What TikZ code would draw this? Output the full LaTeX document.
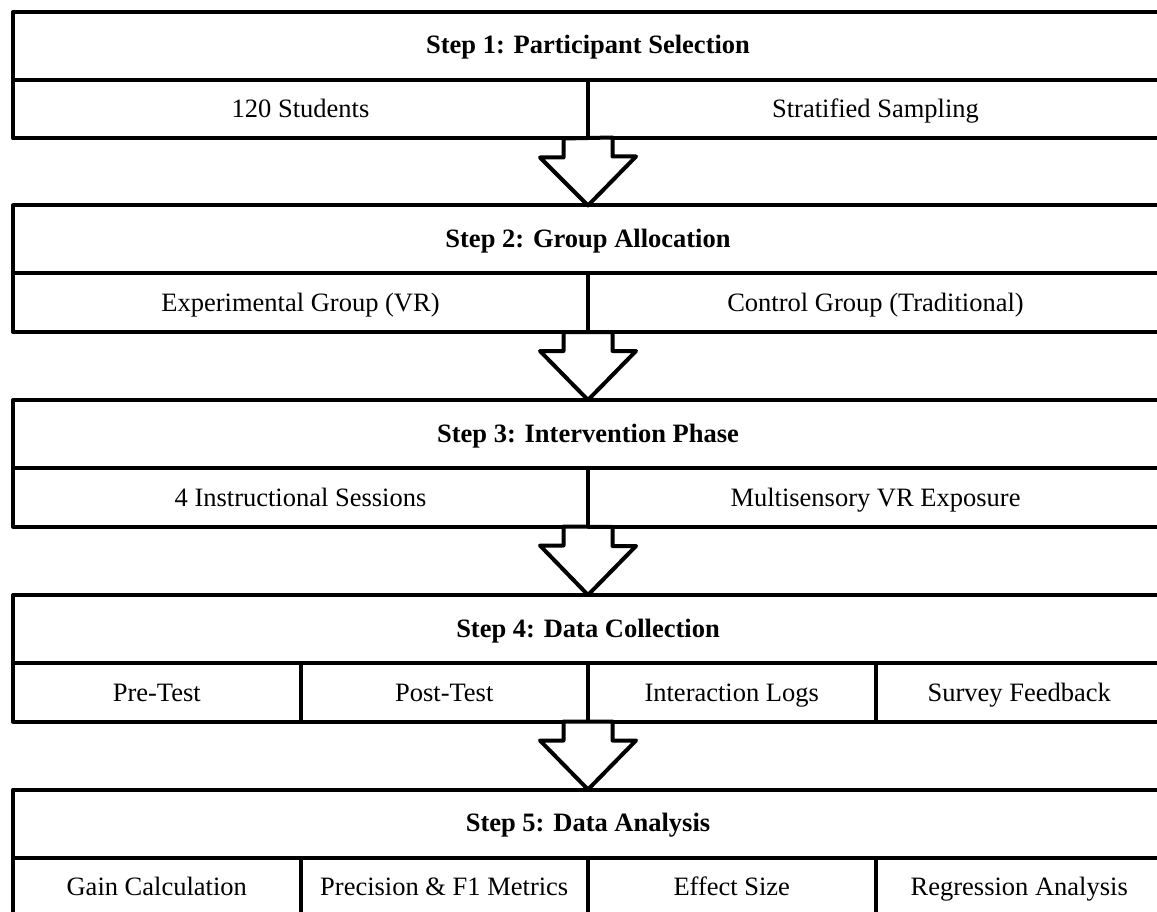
\documentclass[tikz,border=0pt]{standalone}
\usepackage{fontspec}
\setmainfont{Liberation Serif}
\begin{document}
\begin{tikzpicture}[x=1pt,y=-1pt,
  cell/.style={draw, line width=4pt, line join=round, inner sep=0pt, outer sep=0pt,
    minimum height=58.5pt, text height=17.5pt, text depth=0pt,
    font=\fontsize{26.5}{30}\selectfont},
  halfcell/.style={cell, minimum width=575pt},
  quartercell/.style={cell, minimum width=287.5pt},
  head/.style={cell, minimum height=68pt, minimum width=1150pt, text height=16pt,
    font=\fontsize{26.5}{30}\selectfont\bfseries},
  blockarrow/.style={draw, fill=white, line width=4pt, line join=round}]
\useasboundingbox (0,0) rectangle (1157,912);
\clip (0,0) rectangle (1157,912);

% Step 1
\node[head] (h1) at (588,46) {Step 1: Participant Selection};
\node[halfcell] (s1a) at (300.5,109.25) {120 Students};
\node[halfcell] (s1b) at (875.5,109.25) {Stratified Sampling};

% Step 2
\node[head] (h2) at (588,239.5) {Step 2: Group Allocation};
\node[halfcell] (s2a) at (300.5,302.75) {Experimental Group (VR)};
\node[halfcell] (s2b) at (875.5,302.75) {Control Group (Traditional)};

% Step 3
\node[head] (h3) at (588,434) {Step 3: Intervention Phase};
\node[halfcell] (s3a) at (300.5,497.25) {4 Instructional Sessions};
\node[halfcell] (s3b) at (875.5,497.25) {Multisensory VR Exposure};

% Step 4
\node[head] (h4) at (588,629) {Step 4: Data Collection};
\node[quartercell] (s4a) at (156.75,692.25) {Pre-Test};
\node[quartercell] (s4b) at (444.25,692.25) {Post-Test};
\node[quartercell] (s4c) at (731.75,692.25) {Interaction Logs};
\node[quartercell] (s4d) at (1019.25,692.25) {Survey Feedback};

% Step 5
\node[head] (h5) at (588,823.5) {Step 5: Data Analysis};
\node[quartercell] (s5a) at (156.75,886.75) {Gain Calculation};
\node[quartercell] (s5b) at (444.25,886.75) {Precision \& F1 Metrics};
\node[quartercell] (s5c) at (731.75,886.75) {Effect Size};
\node[quartercell] (s5d) at (1019.25,886.75) {Regression Analysis};

% Block arrows
\foreach \from/\to in {s1a/h2, s2a/h3, s3a/h4, s4b/h5}{
  \draw[blockarrow] ([xshift=-24.5pt]\from.south east) -- ++(0,19) -- ++(-23.5,0)
    -- (\to.north) -- ++(48,-49) -- ++(-23.5,0) -- ++(0,-19) -- cycle;
}
\end{tikzpicture}
\end{document}
